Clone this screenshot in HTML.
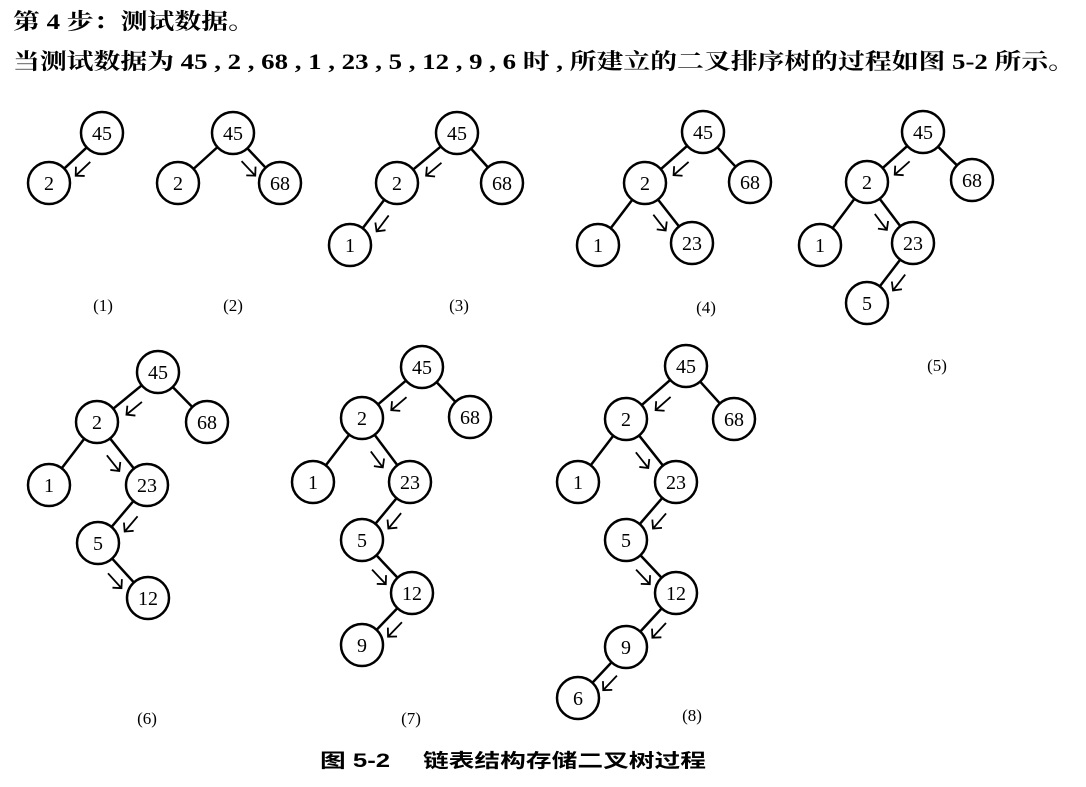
<!DOCTYPE html>
<html><head><meta charset="utf-8"><style>
html,body{margin:0;padding:0;background:#fff;}
svg{display:block}
</style></head><body>
<svg id="fig" width="1086" height="787" viewBox="0 0 1086 787" xmlns="http://www.w3.org/2000/svg">
<text x="13" y="29" font-family="'Liberation Serif','Noto Serif CJK SC',serif" font-weight="bold" font-size="22" textLength="242" lengthAdjust="spacingAndGlyphs">第 4 步：测试数据。</text>
<text x="13" y="69" font-family="'Liberation Serif','Noto Serif CJK SC',serif" font-weight="bold" font-size="22" textLength="1062" lengthAdjust="spacingAndGlyphs">当测试数据为 45 , 2 , 68 , 1 , 23 , 5 , 12 , 9 , 6 时 , 所建立的二叉排序树的过程如图 5-2 所示。</text>
<text x="320" y="767" font-family="'Liberation Sans','Noto Sans CJK SC',sans-serif" font-weight="bold" font-size="19" textLength="386" lengthAdjust="spacingAndGlyphs">图 5-2　 链表结构存储二叉树过程</text>
<g id="trees"></g>
</svg>
<script>
// node values per tree (insertion order) and centers
const treeValues = [
 [45,2],
 [45,2,68],
 [45,2,68,1],
 [45,2,68,1,23],
 [45,2,68,1,23,5],
 [45,2,68,1,23,5,12],
 [45,2,68,1,23,5,12,9],
 [45,2,68,1,23,5,12,9,6]
];
const treeX = [
 [102,49],[233,178,280],[457,397,502,350],[703,645,750,598,692],
 [923,867,972,820,913,867],[158,97,207,49,147,98,148],
 [422,362,470,313,410,362,412,362],[686,626,734,578,676,626,676,626,578]
];
const treeY = [
 [133,183],[133,183,183],[133,183,183,245],[132,183,182,245,243],
 [132,182,180,245,243,303],[372,422,422,485,485,543,598],
 [367,418,417,482,482,540,593,645],[366,419,419,482,482,540,593,647,698]
];
const labelText = ['(1)','(2)','(3)','(4)','(5)','(6)','(7)','(8)'];
const labelX = [103,233,459,706,937,147,411,692];
const labelY = [305,305,305,307,365,718,718,715];

const NS='http://www.w3.org/2000/svg';
const g=document.getElementById('trees');
const R=21;
function mk(tag,attrs){const e=document.createElementNS(NS,tag);for(const k in attrs)e.setAttribute(k,attrs[k]);g.appendChild(e);return e;}
treeValues.forEach((vals,t)=>{
  const xs=treeX[t], ys=treeY[t];
  const parent=[-1];
  for(let i=1;i<vals.length;i++){
    let p=0;
    while(true){
      let next=-1;
      for(let j=1;j<i;j++) if(parent[j]===p && ((vals[j]<vals[p])===(vals[i]<vals[p]))) next=j;
      if(next<0) break; p=next;
    }
    parent[i]=p;
  }
  const path=new Set(); let c=vals.length-1; while(parent[c]>=0){path.add(c);c=parent[c];}
  for(let i=1;i<vals.length;i++){
    const p=parent[i];
    const x1=xs[p],y1=ys[p],x2=xs[i],y2=ys[i];
    const dx=x2-x1,dy=y2-y1,L=Math.hypot(dx,dy),ux=dx/L,uy=dy/L;
    const e=mk('line',{x1:x1+ux*R,y1:y1+uy*R,x2:x2-ux*R,y2:y2-uy*R,stroke:'#000','stroke-width':2.5});
    
    
    if(path.has(i)){
      let px=-uy,py=ux; if(py<0){px=-px;py=-py;}
      const mx=(x1+x2)/2+px*13+ux*2, my=(y1+y2)/2+py*13+uy*2;
      const ax1=mx-ux*10, ay1=my-uy*10, ax2=mx+ux*10, ay2=my+uy*10;
      const h=9;
      const bx=-ux, by=-uy;
      const c45=Math.SQRT1_2;
      const h1x=ax2+h*(bx*c45-by*c45), h1y=ay2+h*(bx*c45+by*c45);
      const h2x=ax2+h*(bx*c45+by*c45), h2y=ay2+h*(-bx*c45+by*c45);
      const a=mk('path',{d:`M${ax1},${ay1}L${ax2},${ay2}M${h1x},${h1y}L${ax2},${ay2}L${h2x},${h2y}`,stroke:'#000','stroke-width':1.8,fill:'none'});
      
      
    }
  }
  vals.forEach((v,i)=>{
    const ci=mk('circle',{cx:xs[i],cy:ys[i],r:R,fill:'#fff',stroke:'#000','stroke-width':2.5});
    
    
    const tx=mk('text',{x:xs[i],y:ys[i]+7,'text-anchor':'middle','font-family':"'Liberation Serif',serif",'font-size':20});
    tx.textContent=v;
    
    
  });
  const lb=mk('text',{x:labelX[t],y:labelY[t]+6,'text-anchor':'middle','font-family':"'Liberation Serif',serif",'font-size':17});
  lb.textContent=labelText[t];
  
  
});
</script>
</body></html>
